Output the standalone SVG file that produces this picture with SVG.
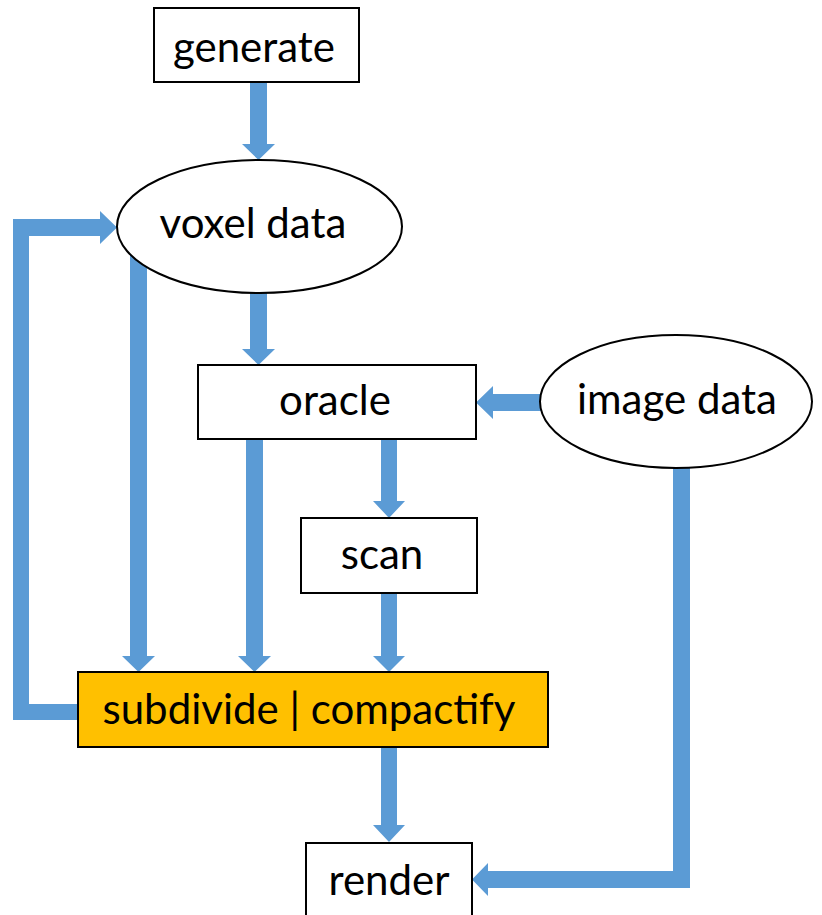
<svg xmlns="http://www.w3.org/2000/svg" width="822" height="915" viewBox="0 0 822 915">
<style>
.box{fill:#fff;stroke:#000;stroke-width:2}
.hl{fill:#FFC000;stroke:#000;stroke-width:2}
.arr{fill:#5B9BD5;stroke:none}
.t{font-family:Lato,"Open Sans","Liberation Sans",sans-serif;font-size:42px;fill:#000;text-anchor:middle}
</style>
<rect width="822" height="915" fill="#fff"/>
<g id="connectors">
  <!-- generate -> voxel -->
  <path class="arr" d="M250,82 H267 V144 H275 L258.5,160 L242,144 H250 Z"/>
  <!-- voxel -> oracle -->
  <path class="arr" d="M250,280 H267 V349 H275 L258.5,365 L242,349 H250 Z"/>
  <!-- image data -> oracle -->
  <path class="arr" d="M560,394 V411 H493 V419 L476,402.5 L493,386 V394 Z"/>
  <!-- voxel -> subdivide -->
  <path class="arr" d="M130,240 H147 V656 H155 L138.5,672 L122,656 H130 Z"/>
  <!-- oracle -> subdivide -->
  <path class="arr" d="M246,439 H263 V656 H271 L254.5,672 L238,656 H246 Z"/>
  <!-- oracle -> scan -->
  <path class="arr" d="M381,439 H397 V501 H405 L389,518 L373,501 H381 Z"/>
  <!-- scan -> subdivide -->
  <path class="arr" d="M381,593 H397 V656 H405 L389,672 L373,656 H381 Z"/>
  <!-- subdivide -> voxel (loop) -->
  <path class="arr" d="M79,704 V720 H13 V219 H100 V211 L117,227.5 L100,244 V236 H29 V704 Z"/>
  <!-- subdivide -> render -->
  <path class="arr" d="M381,747 H397 V825 H405 L389,842 L373,825 H381 Z"/>
  <!-- image data -> render -->
  <path class="arr" d="M673,440 H690 V888 H488 V896 L472,879.5 L488,863 V871 H673 Z"/>
</g>
<g id="generate">
  <rect class="box" x="154" y="8" width="205" height="74"/>
  <text class="t" x="254" y="62">generate</text>
</g>
<g id="voxel-data">
  <ellipse class="box" cx="259.5" cy="226.5" rx="142.5" ry="66.5"/>
  <text class="t" x="253" y="238">voxel data</text>
</g>
<g id="oracle">
  <rect class="box" x="198" y="365" width="278" height="74"/>
  <text class="t" x="335" y="415">oracle</text>
</g>
<g id="image-data">
  <ellipse class="box" cx="676" cy="401.5" rx="136" ry="66.5"/>
  <text class="t" x="677" y="414">image data</text>
</g>
<g id="scan">
  <rect class="box" x="301" y="518" width="176" height="75"/>
  <text class="t" x="382" y="569">scan</text>
</g>
<g id="subdivide">
  <rect class="hl" x="78" y="672" width="470" height="75"/>
  <text class="t" x="309" y="724">subdivide | compactify</text>
</g>
<g id="render">
  <rect class="box" x="306" y="843" width="166" height="80"/>
  <text class="t" x="389" y="895">render</text>
</g>
</svg>
